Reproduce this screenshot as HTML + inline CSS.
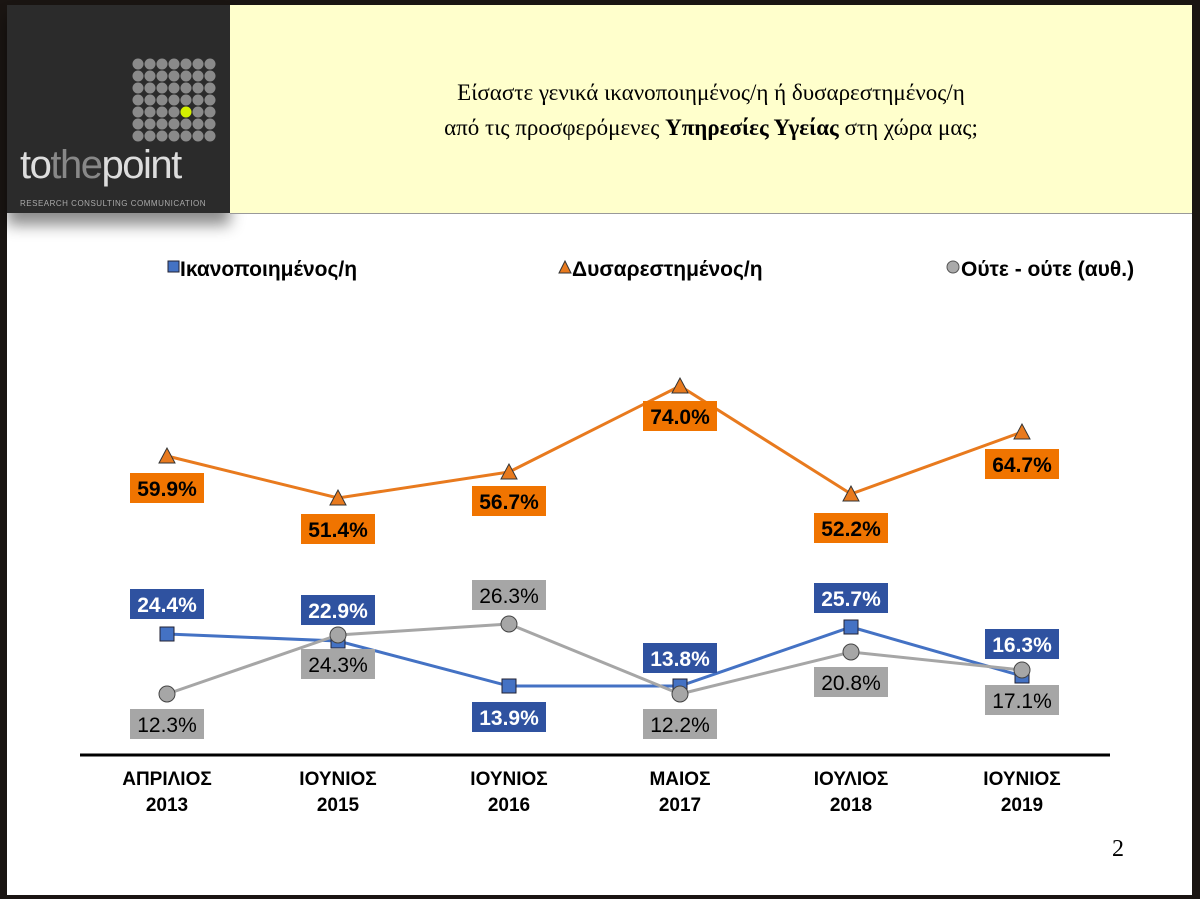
<!DOCTYPE html><html><head><meta charset="utf-8"><style>
body{margin:0;background:#1a1512;}
.s{position:absolute;left:7px;top:5px;width:1185px;height:890px;background:#fff;}
</style></head><body>
<div class="s"></div>
<div style="position:absolute;left:7px;top:5px;width:223px;height:208px;background:#2b2b2b;box-shadow:0 12px 14px rgba(0,0,0,0.45)"></div>
<div style="position:absolute;left:230px;top:5px;width:962px;height:208px;background:#ffffcc;border-bottom:1px solid #999"></div>
<svg width="1200" height="899" style="position:absolute;left:0;top:0" font-family="Liberation Sans, sans-serif">
<text x="20" y="178" font-size="40" fill="#ddd" letter-spacing="-1.5">to<tspan fill="#888">the</tspan>point</text>
<text x="20" y="206" font-size="8" fill="#aaa" letter-spacing="0.5">RESEARCH  CONSULTING  COMMUNICATION</text>
<g font-family="Liberation Serif, serif" font-size="23" text-anchor="middle" fill="#000">
<text x="711" y="100">Είσαστε γενικά ικανοποιημένος/η ή δυσαρεστημένος/η</text>
<text x="711" y="135">από τις προσφερόμενες <tspan font-weight="bold">Υπηρεσίες Υγείας</tspan> στη χώρα μας;</text>
</g>
<g font-size="21" font-weight="bold" fill="#000">
<rect x="168" y="261" width="11" height="11" fill="#4472c4" stroke="#223" /><text x="180" y="276">Ικανοποιημένος/η</text>
<polygon points="565,261 559,273 571,273" fill="#e87a1e" stroke="#333"/><text x="572" y="276">Δυσαρεστημένος/η</text>
<circle cx="953" cy="267" r="6" fill="#aaa" stroke="#555"/><text x="961" y="276">Ούτε - ούτε (αυθ.)</text>
</g>
<line x1="80" y1="755" x2="1110" y2="755" stroke="#000" stroke-width="3"/>
<polyline points="167,456 338,498 509,472 680,386 851,494 1022,432" fill="none" stroke="#e87a1e" stroke-width="3"/>
<polyline points="167,634 338,641 509,686 680,686 851,627 1022,676" fill="none" stroke="#4472c4" stroke-width="3"/>
<polyline points="167,694 338,635 509,624 680,694 851,652 1022,670" fill="none" stroke="#a6a6a6" stroke-width="3"/>
<g fill="#e87a1e" stroke="#333" stroke-width="1">
<polygon points="167,448 159,463 175,463"/><polygon points="338,490 330,505 346,505"/><polygon points="509,464 501,479 517,479"/><polygon points="680,378 672,393 688,393"/><polygon points="851,486 843,501 859,501"/><polygon points="1022,424 1014,439 1030,439"/>
</g>
<g fill="#4472c4" stroke="#223" stroke-width="1">
<rect x="160" y="627" width="14" height="14"/><rect x="331" y="634" width="14" height="14"/><rect x="502" y="679" width="14" height="14"/><rect x="673" y="679" width="14" height="14"/><rect x="844" y="620" width="14" height="14"/><rect x="1015" y="669" width="14" height="14"/>
</g>
<g fill="#a6a6a6" stroke="#444" stroke-width="1">
<circle cx="167" cy="694" r="8"/><circle cx="338" cy="635" r="8"/><circle cx="509" cy="624" r="8"/><circle cx="680" cy="694" r="8"/><circle cx="851" cy="652" r="8"/><circle cx="1022" cy="670" r="8"/>
</g>
<g font-size="21" font-weight="bold" text-anchor="middle">
<g fill="#f07400"><rect x="130" y="473" width="74" height="30"/><rect x="301" y="514" width="74" height="30"/><rect x="472" y="486" width="74" height="30"/><rect x="643" y="401" width="74" height="30"/><rect x="814" y="513" width="74" height="30"/><rect x="985" y="449" width="74" height="30"/></g>
<g fill="#000"><text x="167" y="496">59.9%</text><text x="338" y="537">51.4%</text><text x="509" y="509">56.7%</text><text x="680" y="424">74.0%</text><text x="851" y="536">52.2%</text><text x="1022" y="472">64.7%</text></g>
<g fill="#2f52a0"><rect x="130" y="589" width="74" height="30"/><rect x="301" y="595" width="74" height="30"/><rect x="472" y="702" width="74" height="30"/><rect x="643" y="643" width="74" height="30"/><rect x="814" y="583" width="74" height="30"/><rect x="985" y="629" width="74" height="30"/></g>
<g fill="#fff"><text x="167" y="612">24.4%</text><text x="338" y="618">22.9%</text><text x="509" y="725">13.9%</text><text x="680" y="666">13.8%</text><text x="851" y="606">25.7%</text><text x="1022" y="652">16.3%</text></g>
<g fill="#a6a6a6"><rect x="130" y="709" width="74" height="30"/><rect x="301" y="649" width="74" height="30"/><rect x="472" y="580" width="74" height="30"/><rect x="643" y="709" width="74" height="30"/><rect x="814" y="667" width="74" height="30"/><rect x="985" y="685" width="74" height="30"/></g>
<g fill="#000" font-weight="normal"><text x="167" y="732">12.3%</text><text x="338" y="672">24.3%</text><text x="509" y="603">26.3%</text><text x="680" y="732">12.2%</text><text x="851" y="690">20.8%</text><text x="1022" y="708">17.1%</text></g>
</g>
<g font-size="19" font-weight="bold" text-anchor="middle">
<text x="167" y="785">ΑΠΡΙΛΙΟΣ</text><text x="167" y="811">2013</text>
<text x="338" y="785">ΙΟΥΝΙΟΣ</text><text x="338" y="811">2015</text>
<text x="509" y="785">ΙΟΥΝΙΟΣ</text><text x="509" y="811">2016</text>
<text x="680" y="785">ΜΑΙΟΣ</text><text x="680" y="811">2017</text>
<text x="851" y="785">ΙΟΥΛΙΟΣ</text><text x="851" y="811">2018</text>
<text x="1022" y="785">ΙΟΥΝΙΟΣ</text><text x="1022" y="811">2019</text>
</g>
<text x="1112" y="856" font-family="Liberation Serif, serif" font-size="24">2</text>
<g fill="#8a8a8a">
<circle cx="138" cy="64" r="5.5"/><circle cx="150" cy="64" r="5.5"/><circle cx="162" cy="64" r="5.5"/><circle cx="174" cy="64" r="5.5"/><circle cx="186" cy="64" r="5.5"/><circle cx="198" cy="64" r="5.5"/><circle cx="210" cy="64" r="5.5"/>
<circle cx="138" cy="76" r="5.5"/><circle cx="150" cy="76" r="5.5"/><circle cx="162" cy="76" r="5.5"/><circle cx="174" cy="76" r="5.5"/><circle cx="186" cy="76" r="5.5"/><circle cx="198" cy="76" r="5.5"/><circle cx="210" cy="76" r="5.5"/>
<circle cx="138" cy="88" r="5.5"/><circle cx="150" cy="88" r="5.5"/><circle cx="162" cy="88" r="5.5"/><circle cx="174" cy="88" r="5.5"/><circle cx="186" cy="88" r="5.5"/><circle cx="198" cy="88" r="5.5"/><circle cx="210" cy="88" r="5.5"/>
<circle cx="138" cy="100" r="5.5"/><circle cx="150" cy="100" r="5.5"/><circle cx="162" cy="100" r="5.5"/><circle cx="174" cy="100" r="5.5"/><circle cx="186" cy="100" r="5.5"/><circle cx="198" cy="100" r="5.5"/><circle cx="210" cy="100" r="5.5"/>
<circle cx="138" cy="112" r="5.5"/><circle cx="150" cy="112" r="5.5"/><circle cx="162" cy="112" r="5.5"/><circle cx="174" cy="112" r="5.5"/><circle cx="186" cy="112" r="5.5" fill="#d4f000"/><circle cx="198" cy="112" r="5.5"/><circle cx="210" cy="112" r="5.5"/>
<circle cx="138" cy="124" r="5.5"/><circle cx="150" cy="124" r="5.5"/><circle cx="162" cy="124" r="5.5"/><circle cx="174" cy="124" r="5.5"/><circle cx="186" cy="124" r="5.5"/><circle cx="198" cy="124" r="5.5"/><circle cx="210" cy="124" r="5.5"/>
<circle cx="138" cy="136" r="5.5"/><circle cx="150" cy="136" r="5.5"/><circle cx="162" cy="136" r="5.5"/><circle cx="174" cy="136" r="5.5"/><circle cx="186" cy="136" r="5.5"/><circle cx="198" cy="136" r="5.5"/><circle cx="210" cy="136" r="5.5"/>
</g>
</svg>
</body></html>
